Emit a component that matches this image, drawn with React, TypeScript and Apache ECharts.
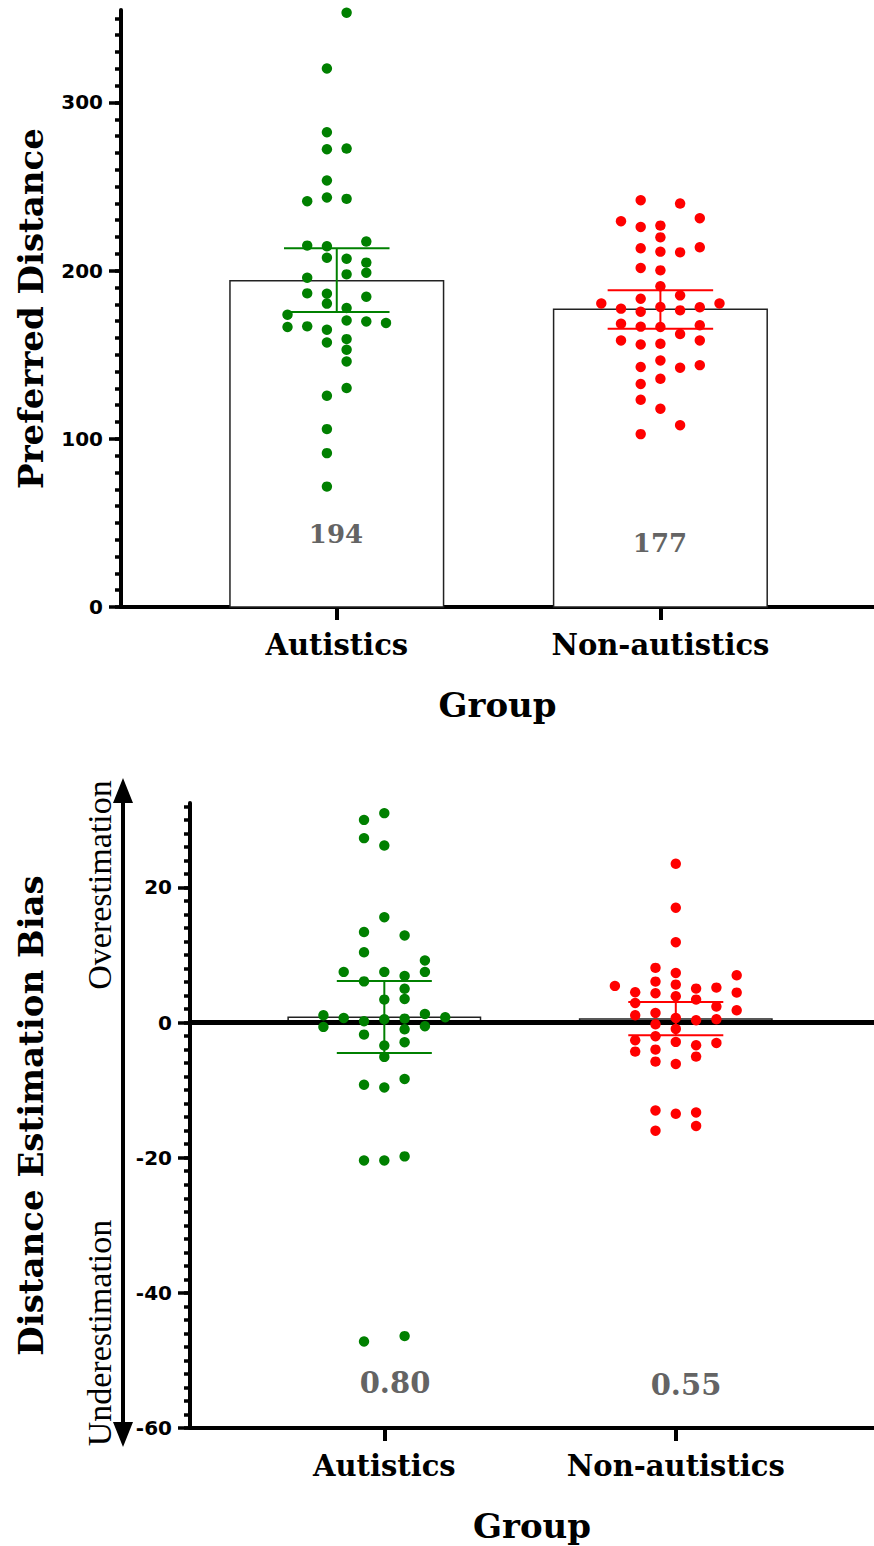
import React, { useEffect, useRef } from "react";
import * as echarts from "echarts";

// ---------- shared ----------
const groups = ["Autistics", "Non-autistics"];
const groupColors = ["#008000", "#ff0000"];
const groupPositions = [1, 2];

// ---------- top panel: Preferred Distance ----------
const prefAutisticsValues = [
  353.4, 320.2, 282.3, 272.2, 272.6, 253.6, 241.3, 243.5, 242.7, 214.9, 214.5, 217.3, 207.7,
  207.1, 204.8, 197.8, 198.8, 195.8, 186.5, 186.3, 184.5, 180.4, 177.8, 173.8, 170.4, 169.8,
  168.9, 166.5, 166.9, 164.9, 157.3, 159.3, 153, 146, 130.2, 125.6, 105.8, 91.5, 71.6,
];
const prefAutisticsColumns = [
  0.5, -0.5, -0.5, -0.5, 0.5, -0.5, -1.5, -0.5, 0.5, -1.5, -0.5, 1.5, -0.5,
  0.5, 1.5, 0.5, 1.5, -1.5, -1.5, -0.5, 1.5, -0.5, 0.5, -2.5, 0.5, 1.5,
  2.5, -2.5, -1.5, -0.5, -0.5, 0.5, 0.5, 0.5, 0.5, -0.5, -0.5, -0.5, -0.5,
];
const prefNonAutisticsValues = [
  241.9, 239.9, 229.4, 231.2, 226, 226.8, 219.8, 213.3, 211.3, 210.9, 213.9, 201.6, 200.2,
  190.7, 185.3, 183.3, 180.5, 180.5, 177.4, 175.6, 178.4, 176.4, 178.2, 168.5, 166.7, 166.5,
  167.5, 162.3, 158.5, 158.5, 156.1, 156.5, 146.6, 142.7, 142.3, 143.8, 132.6, 135.7, 123.2,
  117.9, 108.1, 102.8,
];
const prefNonAutisticsColumns = [
  -1, 1, -2, 2, -1, 0, 0, -1, 0, 1, 2, -1, 0,
  0, 1, -1, -3, 3, -2, -1, 0, 1, 2, -2, -1, 0,
  2, 1, -2, 2, -1, 0, 0, -1, 1, 2, -1, 0, -1,
  0, 1, -1,
];
const prefMeans = [194, 177];
const prefCiLow = [175.4, 165.5];
const prefCiHigh = [213.3, 188.3];
const prefMajorTicks = [0, 100, 200, 300];
const prefMin = 0;
const prefMax = 355;
const prefMinorStep = 10;

// ---------- bottom panel: Distance Estimation Bias ----------
const biasAutisticsValues = [
  31.0, 30.0, 27.3, 26.2, 15.6, 13.4, 12.9, 10.4, 9.2, 7.5, 7.5, 7.5, 6.9,
  6.1, 5.0, 3.4, 3.5, 1.08, 1.28, 0.69, 0.79, 0.49, 0.59, 0.2, -0.64, -0.54,
  -0.99, -1.78, -2.9, -3.4, -5.08, -8.34, -9.2, -9.6, -20.4, -20.4, -19.8, -47.2, -46.4,
];
const biasAutisticsColumns = [
  0, -1, -1, 0, 0, -1, 1, -1, 2, -2, 0, 2, 1,
  -1, 1, 0, 1, -3, 2, -2, 3, 0, 1, -1, -3, 2,
  1, -1, 1, 0, 0, 1, -1, 0, -1, 0, 1, -1, 1,
];
const biasNonAutisticsValues = [
  23.5, 17.0, 11.9, 8.1, 7.35, 7.0, 6.07, 5.62, 5.43, 5.03, 5.18, 4.49, 4.34,
  4.44, 3.9, 3.4, 2.91, 2.37, 1.82, 1.08, 1.43, 0.69, 0.35, 0.49, -0.25, -0.94,
  -2.02, -2.61, -2.86, -3.01, -3.35, -4.29, -4.0, -5.03, -5.77, -6.12, -13.0, -13.5, -13.3,
  -16.0, -15.3,
];
const biasNonAutisticsColumns = [
  0, 0, 0, -1, 0, 3, -1, 0, -3, 1, 2, -2, -1,
  3, 0, 1, -2, 2, 3, -2, -1, 0, 1, 2, -1, 0,
  -1, -2, 0, 2, 1, -2, -1, 1, -1, 0, -1, 0, 1,
  -1, 1,
];
const biasMeans = [0.8, 0.55];
const biasCiLow = [-4.49, -1.87];
const biasCiHigh = [6.17, 3.06];
const biasMajorTicks = [-60, -40, -20, 0, 20];
const biasMin = -60;
const biasMax = 32.5;
const biasMinorStep = 2;

// ---------- helpers ----------
const BAR_HALF = 0.33;
const CAP_HALF = 0.163;
const DOT_R = 5.2;

function tickRange(min: number, max: number, step: number) {
  const out: number[] = [];
  for (let v = min; v <= max + 1e-9; v += step) out.push(Math.round(v * 1000) / 1000);
  return out;
}

const serif = "DejaVu Serif";
const sans = "DejaVu Sans";

function xAxisFor(gridIndex: number, min: number, max: number) {
  return {
    type: "value",
    gridIndex,
    min,
    max,
    name: "Group",
    nameLocation: "middle",
    nameGap: 81,
    nameTextStyle: { fontFamily: serif, fontWeight: "bold", fontSize: 34, color: "#000" },
    axisLine: { show: true, onZero: false, lineStyle: { color: "#000", width: 4 } },
    axisTick: {
      show: true,
      customValues: groupPositions,
      length: 13,
      lineStyle: { color: "#000", width: 4 },
    },
    axisLabel: {
      show: true,
      customValues: groupPositions,
      formatter: (v: number) => groups[Math.round(v) - 1] ?? "",
      fontFamily: serif,
      fontWeight: "bold",
      fontSize: 29,
      color: "#000",
      margin: 23,
    },
    splitLine: { show: false },
  };
}

function yAxesFor(
  gridIndex: number,
  min: number,
  max: number,
  minorStep: number,
  major: number[],
  name: string,
  nameGap: number
) {
  return [
    {
      type: "value",
      gridIndex,
      min,
      max,
      position: "left",
      name,
      nameLocation: "middle",
      nameGap,
      nameTextStyle: { fontFamily: serif, fontWeight: "bold", fontSize: 34, color: "#000" },
      axisLine: { show: true, onZero: false, lineStyle: { color: "#000", width: 4 } },
      axisTick: {
        show: true,
        customValues: tickRange(min, Math.floor(max / minorStep) * minorStep, minorStep),
        length: 6,
        lineStyle: { color: "#000", width: 3.5 },
      },
      axisLabel: {
        show: true,
        customValues: major,
        fontFamily: sans,
        fontWeight: "bold",
        fontSize: 20,
        color: "#000",
        margin: 18,
      },
      splitLine: { show: false },
    },
    {
      type: "value",
      gridIndex,
      min,
      max,
      position: "left",
      axisLine: { show: false, onZero: false },
      axisTick: {
        show: true,
        customValues: major,
        length: 12,
        lineStyle: { color: "#000", width: 3.5 },
      },
      axisLabel: { show: false },
      splitLine: { show: false },
    },
  ];
}

function barSeries(xi: number, yi: number, means: number[], extra: any = {}) {
  return {
    type: "custom",
    xAxisIndex: xi,
    yAxisIndex: yi,
    z: 2,
    silent: true,
    encode: { x: 0, y: 1 },
    data: means.map((m, i) => [groupPositions[i], m]),
    renderItem: (_p: any, api: any) => {
      const x = api.value(0);
      const y = api.value(1);
      const a = api.coord([x - BAR_HALF, y]);
      const b = api.coord([x + BAR_HALF, 0]);
      return {
        type: "rect",
        shape: {
          x: a[0],
          y: Math.min(a[1], b[1]),
          width: b[0] - a[0],
          height: Math.abs(b[1] - a[1]),
        },
        style: { fill: "#fff", stroke: "#222", lineWidth: 1.5 },
      };
    },
    ...extra,
  };
}

function dotSeries(xi: number, yi: number, g: number, values: number[], cols: number[], step: number) {
  return {
    type: "custom",
    xAxisIndex: xi,
    yAxisIndex: yi,
    z: 10,
    silent: true,
    encode: { x: 0, y: 1 },
    data: values.map((v, i) => [groupPositions[g], v, cols[i]]),
    renderItem: (_p: any, api: any) => {
      const p = api.coord([api.value(0), api.value(1)]);
      return {
        type: "circle",
        shape: { cx: p[0] + api.value(2) * step, cy: p[1], r: DOT_R },
        style: { fill: groupColors[g] },
      };
    },
  };
}

function errSeries(xi: number, yi: number, lo: number[], hi: number[]) {
  return {
    type: "custom",
    xAxisIndex: xi,
    yAxisIndex: yi,
    z: 11,
    silent: true,
    encode: { x: 0, y: [1, 2] },
    data: lo.map((l, i) => [groupPositions[i], l, hi[i]]),
    renderItem: (params: any, api: any) => {
      const x = api.value(0);
      const top = api.coord([x, api.value(2)]);
      const bot = api.coord([x, api.value(1)]);
      const l = api.coord([x - CAP_HALF, api.value(2)])[0];
      const r = api.coord([x + CAP_HALF, api.value(2)])[0];
      const st = { stroke: groupColors[params.dataIndex], lineWidth: 2 };
      return {
        type: "group",
        children: [
          { type: "line", shape: { x1: top[0], y1: top[1], x2: bot[0], y2: bot[1] }, style: st },
          { type: "line", shape: { x1: l, y1: top[1], x2: r, y2: top[1] }, style: st },
          { type: "line", shape: { x1: l, y1: bot[1], x2: r, y2: bot[1] }, style: st },
        ],
      };
    },
  };
}

function valueText(text: string, x: number, y: number, size: number) {
  return {
    type: "text",
    x,
    y,
    z: 20,
    style: {
      text,
      fontFamily: serif,
      fontWeight: "bold",
      fontSize: size,
      fill: "#646464",
      align: "center",
      verticalAlign: "middle",
    },
  };
}

export default function App() {
  const ref = useRef<HTMLDivElement>(null);

  useEffect(() => {
    if (!ref.current) return;
    const chart = echarts.init(ref.current, null, { renderer: "svg" });

    const option: any = {
      animation: false,
      backgroundColor: "#fff",
      grid: [
        { left: 121, top: 10, width: 753, height: 597 },
        { left: 190, top: 803, width: 684, height: 625 },
      ],
      xAxis: [xAxisFor(0, 1 / 3, 2.66), xAxisFor(1, 1 / 3, 2.68)],
      yAxis: [
        ...yAxesFor(0, prefMin, prefMax, prefMinorStep, prefMajorTicks, "Preferred Distance", 73),
        ...yAxesFor(1, biasMin, biasMax, biasMinorStep, biasMajorTicks, "Distance Estimation Bias", 142),
      ],
      series: [
        barSeries(0, 0, prefMeans),
        dotSeries(0, 0, 0, prefAutisticsValues, prefAutisticsColumns, 19.7),
        dotSeries(0, 0, 1, prefNonAutisticsValues, prefNonAutisticsColumns, 19.7),
        errSeries(0, 0, prefCiLow, prefCiHigh),
        barSeries(1, 2, biasMeans, {
          markLine: {
            silent: true,
            symbol: ["none", "none"],
            label: { show: false },
            lineStyle: { color: "#000", width: 5, type: "solid" },
            emphasis: { disabled: true },
            data: [{ yAxis: 0 }],
          },
        }),
        dotSeries(1, 2, 0, biasAutisticsValues, biasAutisticsColumns, 20.3),
        dotSeries(1, 2, 1, biasNonAutisticsValues, biasNonAutisticsColumns, 20.3),
        errSeries(1, 2, biasCiLow, biasCiHigh),
      ],
      graphic: [
        valueText(String(prefMeans[0]), 336, 534, 26),
        valueText(String(prefMeans[1]), 660, 543, 26),
        valueText(biasMeans[0].toFixed(2), 395, 1383, 29),
        valueText(biasMeans[1].toFixed(2), 686, 1385, 29),
        {
          type: "line",
          shape: { x1: 123, y1: 795, x2: 123, y2: 1430 },
          style: { stroke: "#000", lineWidth: 4 },
        },
        {
          type: "polygon",
          shape: { points: [[113, 803], [133, 803], [123, 778]] },
          style: { fill: "#000" },
        },
        {
          type: "polygon",
          shape: { points: [[113, 1422], [133, 1422], [123, 1447]] },
          style: { fill: "#000" },
        },
        {
          type: "text",
          x: 99,
          y: 885,
          rotation: Math.PI / 2,
          style: {
            text: "Overestimation",
            fontFamily: "Liberation Serif",
            fontSize: 34,
            fill: "#000",
            align: "center",
            verticalAlign: "middle",
          },
        },
        {
          type: "text",
          x: 99,
          y: 1333,
          rotation: Math.PI / 2,
          style: {
            text: "Underestimation",
            fontFamily: "Liberation Serif",
            fontSize: 34,
            fill: "#000",
            align: "center",
            verticalAlign: "middle",
          },
        },
      ],
    };

    chart.setOption(option);
    return () => chart.dispose();
  }, []);

  return (
    <div
      ref={ref}
      style={{ position: "absolute", left: 0, top: 0, width: 874, height: 1546, background: "#fff" }}
    />
  );
}
